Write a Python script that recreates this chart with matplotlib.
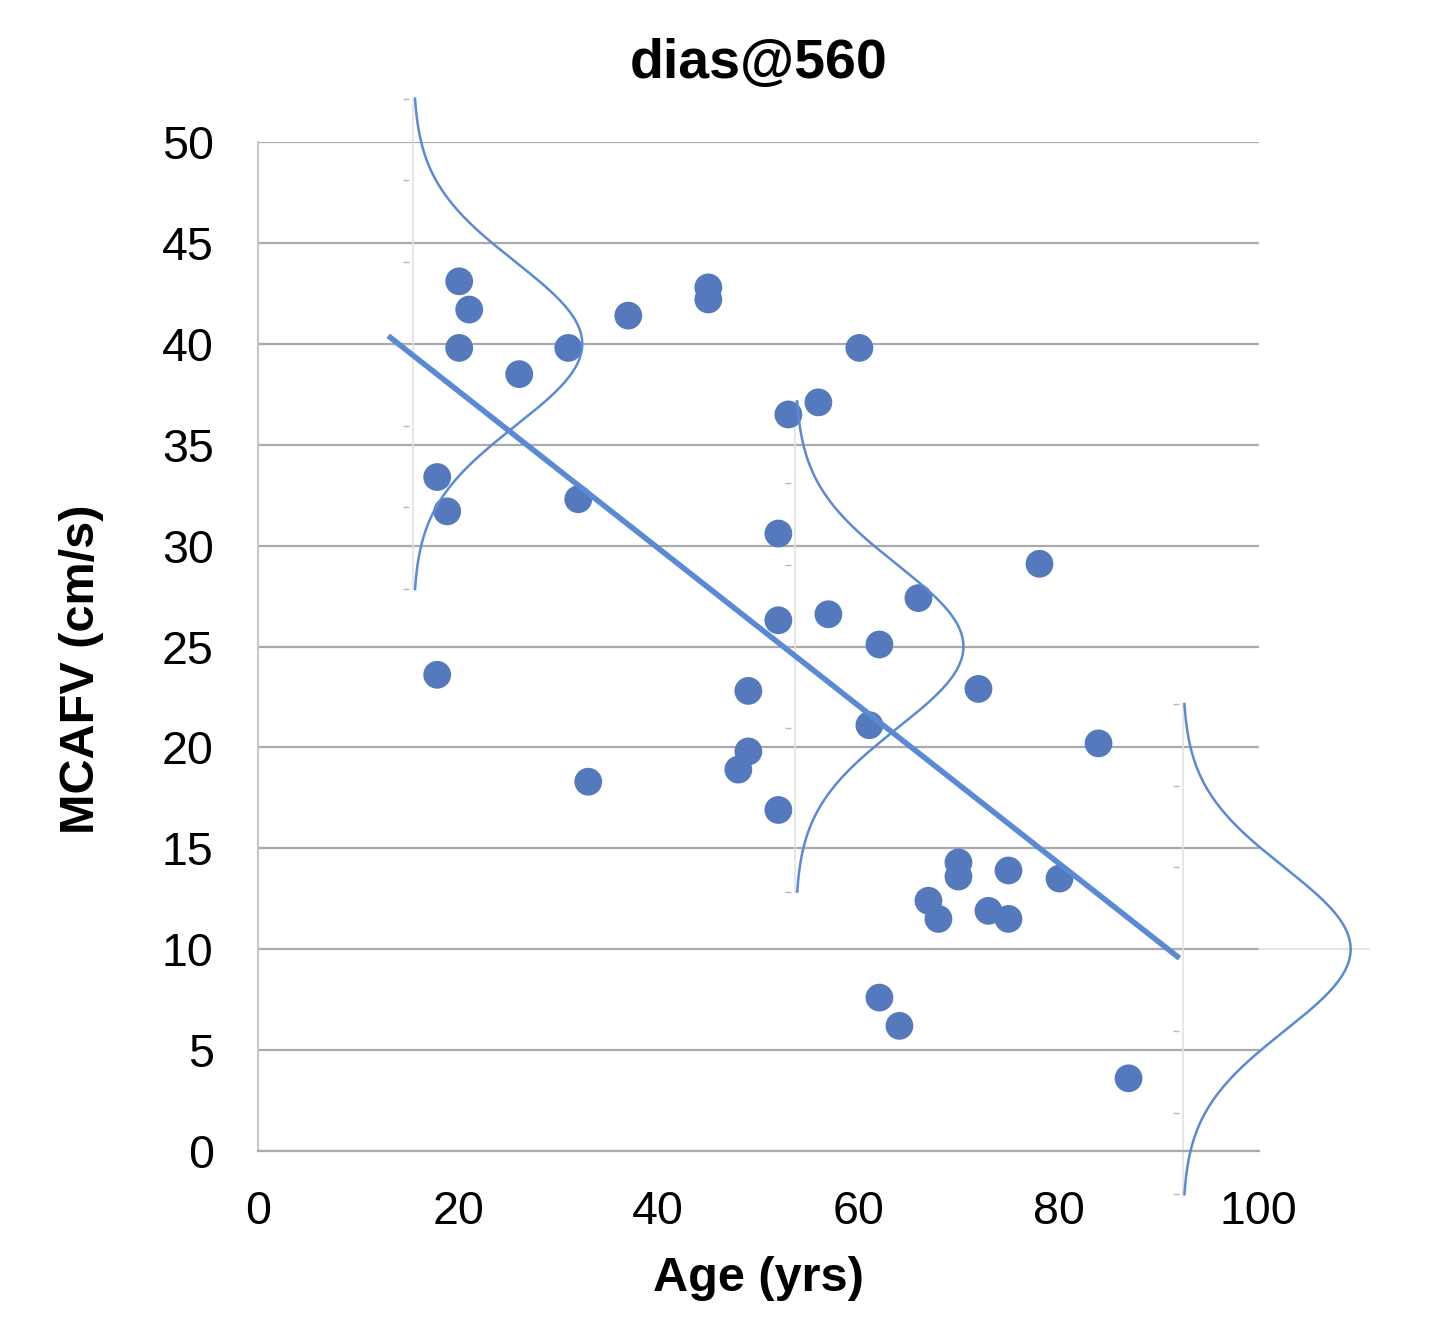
import numpy as np
import matplotlib.pyplot as plt

plt.rcParams['font.family'] = ['Liberation Sans', 'DejaVu Sans']

# scatter data
age = [20.1, 21.1, 20.1, 26.1, 31, 37, 45, 45, 60.1, 56, 53,
       17.9, 18.9, 32, 52, 78.1, 66, 57, 52, 62.1, 17.9, 49, 72,
       61.1, 84, 49, 48, 33, 52, 70, 70, 75, 80.1, 67, 73, 68, 75,
       62.1, 64.1, 87]
mcafv = [43.1, 41.7, 39.8, 38.5, 39.8, 41.4, 42.8, 42.2, 39.8, 37.1, 36.5,
         33.4, 31.7, 32.3, 30.6, 29.1, 27.4, 26.6, 26.3, 25.1, 23.6, 22.8, 22.9,
         21.1, 20.2, 19.8, 18.9, 18.3, 16.9, 14.3, 13.6, 13.9, 13.5, 12.4, 11.9, 11.5, 11.5,
         7.6, 6.2, 3.6]

# trend line end points
trend_x = [13.0, 92.1]
trend_y = [40.4, 9.55]

# sideways normal curves: baseline age, centre value, spread, peak height
curve_base = [15.5, 53.7, 92.4]
curve_mu = [40.0, 25.0, 10.0]
curve_sd = [4.05, 4.05, 4.05]
curve_amp = [16.9, 16.8, 16.8]

dot_col = '#5479bd'
line_col = '#5b8ad5'

fig = plt.figure(figsize=(14.5, 13.38), dpi=100)
ax = fig.add_axes([0.178, 0.1398, 0.690, 0.754])

ax.set_xlim(0, 100)
ax.set_ylim(0, 50)
ax.set_xticks(range(0, 101, 20))
ax.set_yticks(range(0, 51, 5))
ax.grid(axis='y', color='#aaaaaa', lw=1.6, zorder=0)
ax.set_axisbelow(True)
for s in ['top', 'right']:
    ax.spines[s].set_visible(False)
ax.spines['left'].set_color('#c8c8c8')
ax.spines['left'].set_linewidth(1.5)
ax.spines['bottom'].set_color('#aaaaaa')
ax.spines['bottom'].set_linewidth(1.6)
ax.tick_params(axis='both', length=0, labelsize=33.5)
ax.tick_params(axis='x', pad=28)
ax.tick_params(axis='y', pad=32)

# mini axes of the curves
for b, mu, sd, amp in zip(curve_base, curve_mu, curve_sd, curve_amp):
    yy = np.linspace(mu - 3 * sd, mu + 3 * sd, 300)
    xx = b + amp * np.exp(-0.5 * ((yy - mu) / sd) ** 2)
    ax.plot([b, b], [yy[0], yy[-1]], color='#e2e2e2', lw=1.2, zorder=1, clip_on=False)
    ticks = mu + sd * np.arange(-3, 4)
    ax.plot([b - 0.7] * len(ticks), ticks, ls='none', marker='_', ms=4,
            color='#b8b8b8', zorder=1, clip_on=False)
    ax.plot(xx, yy, color=line_col, lw=1.8, zorder=4, clip_on=False)
ax.plot([100, 111], [10, 10], color='#e0e0e0', lw=1.2, clip_on=False, zorder=1)

ax.scatter(age, mcafv, s=400, color=dot_col, edgecolors='none', zorder=3)
ax.plot(trend_x, trend_y, color=line_col, lw=4, solid_capstyle='butt', zorder=3)

ax.set_title('dias@560', fontsize=40, fontweight='bold', pad=46)
ax.set_xlabel('Age (yrs)', fontsize=35, fontweight='bold')
ax.set_ylabel('MCAFV (cm/s)', fontsize=35, fontweight='bold')
ax.xaxis.set_label_coords(0.5, -0.104)
ax.yaxis.set_label_coords(-0.154, 0.477)

fig.savefig('out.png', dpi=100)
